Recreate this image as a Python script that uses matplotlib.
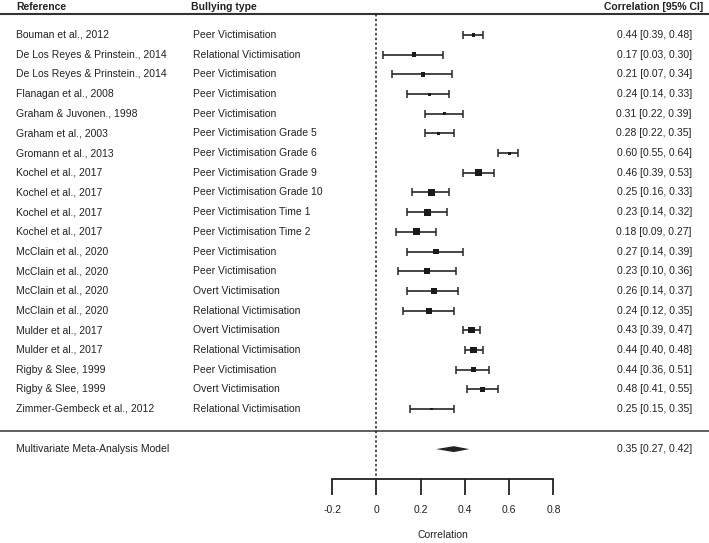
import numpy as np
import matplotlib
matplotlib.use("Agg")
import matplotlib.pyplot as plt
from matplotlib.ticker import FixedLocator, FixedFormatter

plt.rcParams['font.family'] = ['Liberation Sans', 'DejaVu Sans']

# study rows
references = ["Bouman et al., 2012", "De Los Reyes & Prinstein., 2014",
              "De Los Reyes & Prinstein., 2014", "Flanagan et al., 2008",
              "Graham & Juvonen., 1998", "Graham et al., 2003",
              "Gromann et al., 2013", "Kochel et al., 2017",
              "Kochel et al., 2017", "Kochel et al., 2017",
              "Kochel et al., 2017", "McClain et al., 2020",
              "McClain et al., 2020", "McClain et al., 2020",
              "McClain et al., 2020", "Mulder et al., 2017",
              "Mulder et al., 2017", "Rigby & Slee, 1999",
              "Rigby & Slee, 1999", "Zimmer-Gembeck et al., 2012"]
bullying = ["Peer Victimisation", "Relational Victimisation",
            "Peer Victimisation", "Peer Victimisation", "Peer Victimisation",
            "Peer Victimisation Grade 5", "Peer Victimisation Grade 6",
            "Peer Victimisation Grade 9", "Peer Victimisation Grade 10",
            "Peer Victimisation Time 1", "Peer Victimisation Time 2",
            "Peer Victimisation", "Peer Victimisation", "Overt Victimisation",
            "Relational Victimisation", "Overt Victimisation",
            "Relational Victimisation", "Peer Victimisation",
            "Overt Victimisation", "Relational Victimisation"]
est = np.array([0.44, 0.17, 0.21, 0.24, 0.31, 0.28, 0.60, 0.46, 0.25, 0.23,
                0.18, 0.27, 0.23, 0.26, 0.24, 0.43, 0.44, 0.44, 0.48, 0.25])
lo = np.array([0.39, 0.03, 0.07, 0.14, 0.22, 0.22, 0.55, 0.39, 0.16, 0.14,
               0.09, 0.14, 0.10, 0.14, 0.12, 0.39, 0.40, 0.36, 0.41, 0.15])
hi = np.array([0.48, 0.30, 0.34, 0.33, 0.39, 0.35, 0.64, 0.53, 0.33, 0.32,
               0.27, 0.39, 0.36, 0.37, 0.35, 0.47, 0.48, 0.51, 0.55, 0.35])
# relative study weights (square size)
weights = np.array([3.5, 4.5, 4.5, 3, 3, 3.5, 3, 7, 7, 7, 7, 5.5, 5.5, 6, 6,
                    6.5, 6.5, 5.5, 5.5, 2.6])

summary_label = "Multivariate Meta-Analysis Model"
summary_est, summary_lo, summary_hi = 0.35, 0.27, 0.42

tick_vals = [-0.2, 0, 0.2, 0.4, 0.6, 0.8]
tick_labels = ["-0.2", "0", "0.2", "0.4", "0.6", "0.8"]

# layout (rows measured from top)
rows = np.arange(1, len(est) + 1)
row_header = -0.42
row_topline = -0.07
row_sep = 21.12
row_summary = 22.04
row_axis = 23.56
row_xlabel = 26.41

ink = '#222222'
fs = 7.45

fig = plt.figure(figsize=(7.09, 5.43), dpi=100)
ax = fig.add_axes([0, 0, 1, 1])
ax.set_xlim(-1.70, 1.503)
ax.set_ylim(26.81, -0.778)


def fx(px):
    # pixel column -> data x
    return -1.70 + px / 709 * (1.503 + 1.70)


# header
ax.text(fx(16), row_header, "Reference", fontsize=fs, fontweight='bold',
        color=ink, va='center', ha='left')
ax.text(fx(191), row_header, "Bullying type", fontsize=fs, fontweight='bold',
        color=ink, va='center', ha='left')
ax.text(fx(703), row_header, "Correlation [95% CI]", fontsize=fs,
        fontweight='bold', color=ink, va='center', ha='right')
ax.axhline(row_topline, color='#333333', lw=1.5)
ax.axhline(row_sep, color='#333333', lw=1.1)

# zero line
ax.plot([0, 0], [row_topline, row_axis], color=ink, lw=1.1,
        linestyle=(0, (1.6, 1.5)))

# studies
ax.errorbar(est, rows, xerr=[est - lo, hi - est], fmt='none',
            ecolor='#262626', elinewidth=1.2, capsize=2.6, capthick=1.1)
ax.scatter(est, rows, marker='s', s=(weights * 0.72) ** 2, color='#1a1a1a',
           zorder=3, linewidths=0)

for r, ref, bt, e, l, h in zip(rows, references, bullying, est, lo, hi):
    ax.text(fx(16), r, ref, fontsize=fs, color=ink, va='center', ha='left')
    ax.text(fx(193), r, bt, fontsize=fs, color=ink, va='center', ha='left')
    ax.text(fx(692), r, f"{e:.2f} [{l:.2f}, {h:.2f}]", fontsize=fs,
            color=ink, va='center', ha='right')

# summary diamond
dh = 0.15
ax.fill([summary_lo, summary_est, summary_hi, summary_est],
        [row_summary, row_summary - dh, row_summary, row_summary + dh],
        color=ink, lw=0)
ax.text(fx(16), row_summary, summary_label, fontsize=fs, color=ink,
        va='center', ha='left')
ax.text(fx(692), row_summary,
        f"{summary_est:.2f} [{summary_lo:.2f}, {summary_hi:.2f}]",
        fontsize=fs, color=ink, va='center', ha='right')

# bottom axis
for s in ['top', 'left', 'right']:
    ax.spines[s].set_visible(False)
ax.spines['bottom'].set_position(('data', row_axis))
ax.spines['bottom'].set_bounds(tick_vals[0], tick_vals[-1])
ax.spines['bottom'].set_linewidth(1.3)
ax.spines['bottom'].set_color(ink)
ax.xaxis.set_major_locator(FixedLocator(tick_vals))
ax.xaxis.set_major_formatter(FixedFormatter(tick_labels))
ax.tick_params(axis='x', direction='out', length=11.5, width=1.3,
               color=ink, labelsize=fs, labelcolor=ink, pad=7.5)
ax.set_yticks([])
ax.text(0.3, row_xlabel, "Correlation", fontsize=fs, color=ink,
        ha='center', va='center')

fig.savefig("out.png", dpi=100)
